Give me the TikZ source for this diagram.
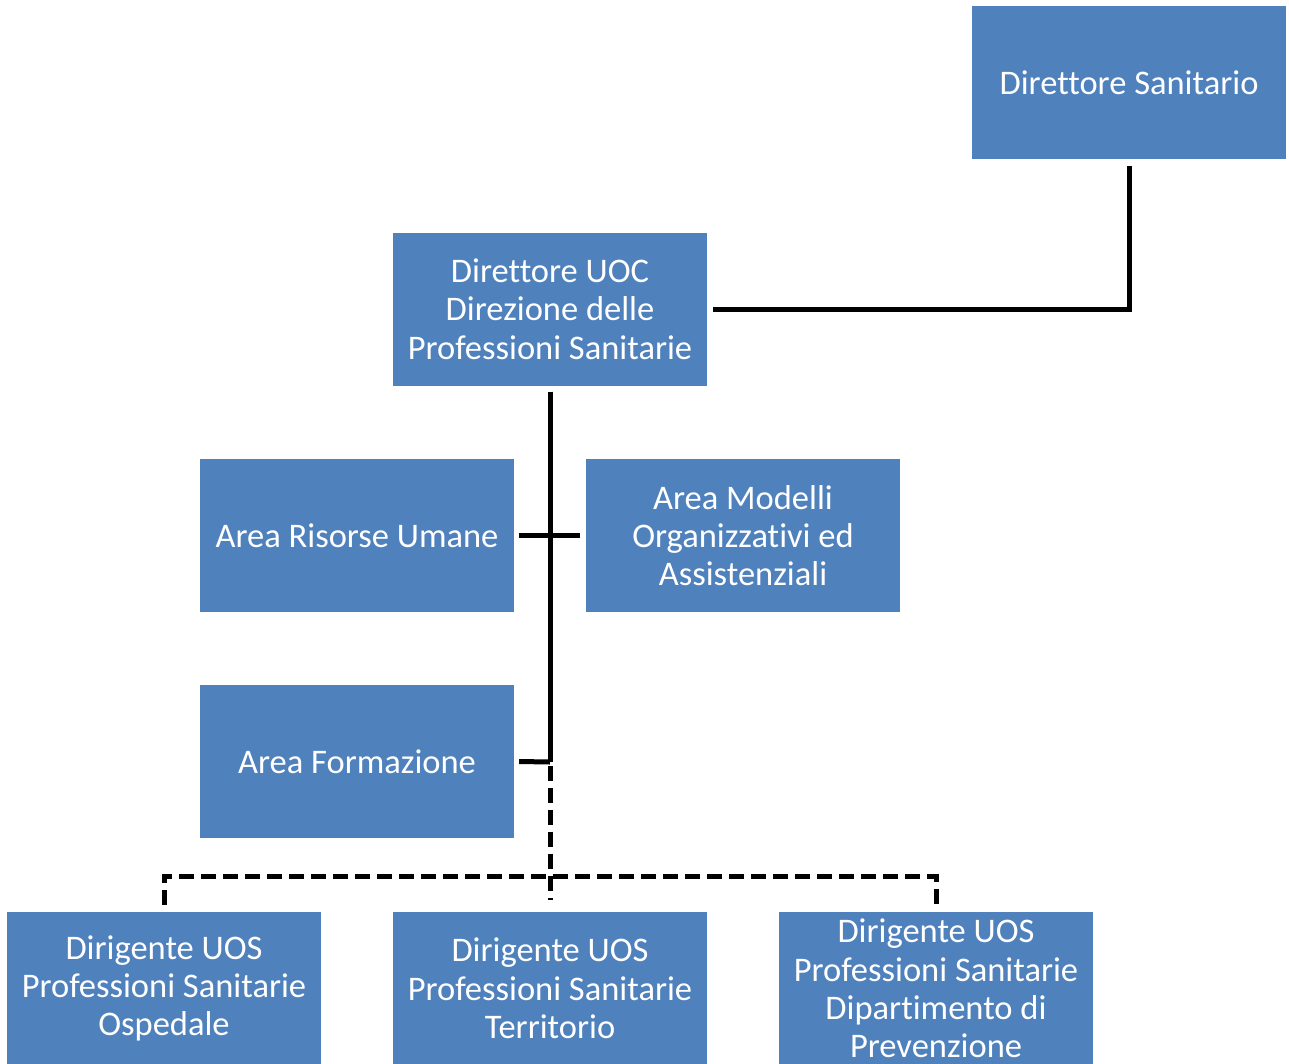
\documentclass[tikz,border=0pt]{standalone}
\usepackage{fontspec}
\setmainfont{Carlito}[Ligatures=NoCommon]
\begin{document}
\begin{tikzpicture}[x=1pt,y=-1pt,
  box/.style={fill=boxblue, draw=none, minimum width=314pt, minimum height=153pt,
    text=white, align=center, inner sep=0pt,
    font=\fontsize{34.5}{38.3}\selectfont},
  solidlink/.style={line width=5pt, black},
  dashlink/.style={line width=5pt, black, dash pattern=on 15pt off 7pt}]
\definecolor{boxblue}{HTML}{4F81BD}
\useasboundingbox (0,0) rectangle (1289,1063);
\begin{scope}
\clip (0,0) rectangle (1289,1063);
% boxes
\node[box] (ds)  at (1129,82.5) {Direttore Sanitario};
\node[box] (uoc) at (550,309) {Direttore UOC\\Direzione delle\\Professioni Sanitarie};
\node[box] (aru) at (357,535.5) {Area Risorse Umane};
\node[box] (amo) at (743,535.5) {Area Modelli\\Organizzativi ed\\Assistenziali};
\node[box] (afo) at (357,761.5) {Area Formazione};
\node[box] (osp) at (164,988.5) {Dirigente UOS\\Professioni Sanitarie\\Ospedale};
\node[box] (ter) at (550,988.5) {Dirigente UOS\\Professioni Sanitarie\\Territorio};
\node[box] (pre) at (936,988.5) {Dirigente UOS\\Professioni Sanitarie\\Dipartimento di\\Prevenzione};
\end{scope}
% junction points
\coordinate (top) at ([yshift=-6pt]uoc.south);
\coordinate (form) at (550,762);
\coordinate (end) at (550,900);
\coordinate (lhub) at (164,876);
\coordinate (rhub) at (936,876);
% dotted-line reporting to the UOS managers
\draw[dashlink] (top) -- (end);
\draw[dashlink] ([yshift=7pt]osp.north) -- (lhub) -- (rhub) -- ([yshift=7pt]pre.north);
% solid reporting lines
\draw[solidlink] ([yshift=-7pt]ds.south) |- ([xshift=6pt]uoc.east);
\draw[solidlink] (top) -- (form);
\draw[solidlink] ([xshift=5pt]aru.east) -- ([xshift=-6pt]amo.west);
\draw[solidlink] ([xshift=5pt]afo.east) -- (form);
\end{tikzpicture}
\end{document}
